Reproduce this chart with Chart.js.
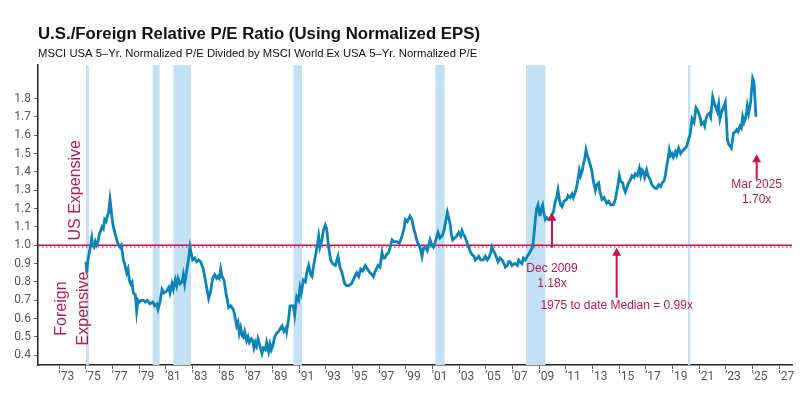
<!DOCTYPE html>
<html>
<head>
<meta charset="utf-8">
<title>U.S./Foreign Relative P/E Ratio</title>
<script src="https://cdn.jsdelivr.net/npm/chart.js@4.4.1/dist/chart.umd.min.js"></script>
<style>
  html, body { margin: 0; padding: 0; background: #ffffff; }
  #wrap { width: 800px; height: 393px; }
</style>
</head>
<body>
<div id="wrap"><canvas id="peChart" width="800" height="393"></canvas></div>
<script>
// Monthly-ish readings of the relative P/E (decimal year, ratio)
const years = [
  1975.00, 1975.05, 1975.15, 1975.30, 1975.43, 1975.50, 1975.60, 1975.70, 1975.80, 1975.90,
  1976.00, 1976.10, 1976.20, 1976.30, 1976.40, 1976.50, 1976.60, 1976.70, 1976.80, 1976.85,
  1976.95, 1977.05, 1977.20, 1977.30, 1977.40, 1977.55, 1977.65, 1977.80, 1977.90, 1978.05,
  1978.15, 1978.25, 1978.35, 1978.45, 1978.55, 1978.70, 1978.80, 1978.90, 1979.00, 1979.15,
  1979.30, 1979.45, 1979.60, 1979.80, 1980.00, 1980.15, 1980.30, 1980.40, 1980.55, 1980.70,
  1980.85, 1981.05, 1981.20, 1981.30, 1981.45, 1981.55, 1981.70, 1981.80, 1981.90, 1982.05,
  1982.20, 1982.30, 1982.40, 1982.55, 1982.70, 1982.80, 1982.90, 1983.00, 1983.15, 1983.30,
  1983.45, 1983.60, 1983.70, 1983.80, 1983.90, 1984.05, 1984.20, 1984.35, 1984.50, 1984.65,
  1984.80, 1984.90, 1985.00, 1985.10, 1985.20, 1985.35, 1985.50, 1985.60, 1985.70, 1985.85,
  1986.05, 1986.15, 1986.30, 1986.40, 1986.50, 1986.60, 1986.70, 1986.80, 1986.90, 1987.05,
  1987.15, 1987.25, 1987.40, 1987.50, 1987.60, 1987.70, 1987.80, 1987.90, 1988.05, 1988.20,
  1988.30, 1988.45, 1988.55, 1988.70, 1988.80, 1988.90, 1989.00, 1989.15, 1989.30, 1989.45,
  1989.60, 1989.70, 1989.85, 1990.00, 1990.05, 1990.20, 1990.30, 1990.45, 1990.55, 1990.65,
  1990.80, 1990.95, 1991.05, 1991.15, 1991.30, 1991.45, 1991.55, 1991.70, 1991.85, 1991.95,
  1992.10, 1992.20, 1992.35, 1992.45, 1992.55, 1992.70, 1992.80, 1992.95, 1993.05, 1993.20,
  1993.35, 1993.50, 1993.70, 1993.90, 1994.05, 1994.20, 1994.30, 1994.40, 1994.55, 1994.70,
  1994.90, 1995.10, 1995.30, 1995.45, 1995.60, 1995.75, 1995.95, 1996.10, 1996.30, 1996.45,
  1996.55, 1996.70, 1996.90, 1997.05, 1997.20, 1997.30, 1997.40, 1997.55, 1997.70, 1997.85,
  1997.95, 1998.10, 1998.30, 1998.50, 1998.70, 1998.85, 1998.95, 1999.10, 1999.30, 1999.45,
  1999.55, 1999.70, 1999.80, 1999.95, 2000.05, 2000.20, 2000.30, 2000.45, 2000.60, 2000.80,
  2000.95, 2001.05, 2001.20, 2001.40, 2001.55, 2001.70, 2001.85, 2001.95, 2002.10, 2002.20,
  2002.30, 2002.40, 2002.50, 2002.65, 2002.80, 2002.95, 2003.10, 2003.20, 2003.30, 2003.40,
  2003.55, 2003.70, 2003.85, 2003.95, 2004.10, 2004.20, 2004.35, 2004.45, 2004.60, 2004.80,
  2004.95, 2005.10, 2005.20, 2005.35, 2005.45, 2005.55, 2005.70, 2005.80, 2005.90, 2006.05,
  2006.20, 2006.35, 2006.45, 2006.60, 2006.70, 2006.80, 2006.95, 2007.10, 2007.20, 2007.35,
  2007.45, 2007.55, 2007.70, 2007.80, 2007.95, 2008.10, 2008.20, 2008.35, 2008.50, 2008.60,
  2008.70, 2008.80, 2008.90, 2009.00, 2009.05, 2009.15, 2009.25, 2009.35, 2009.45, 2009.55,
  2009.70, 2009.85, 2009.95, 2010.05, 2010.20, 2010.30, 2010.40, 2010.50, 2010.60, 2010.70,
  2010.85, 2011.05, 2011.15, 2011.30, 2011.45, 2011.55, 2011.70, 2011.80, 2011.90, 2012.00,
  2012.10, 2012.20, 2012.30, 2012.40, 2012.50, 2012.60, 2012.70, 2012.85, 2012.95, 2013.05,
  2013.20, 2013.30, 2013.45, 2013.55, 2013.70, 2013.85, 2014.05, 2014.20, 2014.35, 2014.55,
  2014.70, 2014.80, 2014.90, 2015.00, 2015.10, 2015.25, 2015.35, 2015.45, 2015.60, 2015.70,
  2015.85, 2015.95, 2016.10, 2016.20, 2016.35, 2016.50, 2016.60, 2016.70, 2016.80, 2016.90,
  2017.05, 2017.15, 2017.30, 2017.45, 2017.55, 2017.70, 2017.80, 2017.95, 2018.10, 2018.20,
  2018.35, 2018.45, 2018.55, 2018.65, 2018.75, 2018.85, 2018.95, 2019.05, 2019.20, 2019.30,
  2019.45, 2019.60, 2019.80, 2019.95, 2020.05, 2020.20, 2020.30, 2020.40, 2020.45, 2020.60,
  2020.75, 2020.85, 2020.95, 2021.05, 2021.15, 2021.30, 2021.40, 2021.50, 2021.60, 2021.75,
  2021.85, 2022.00, 2022.10, 2022.20, 2022.35, 2022.45, 2022.55, 2022.65, 2022.75, 2022.85,
  2022.95, 2023.05, 2023.10, 2023.20, 2023.30, 2023.40, 2023.50, 2023.55, 2023.70, 2023.80,
  2023.90, 2024.05, 2024.15, 2024.25, 2024.35, 2024.45, 2024.55, 2024.60, 2024.70, 2024.75,
  2024.85, 2024.90, 2025.00, 2025.10, 2025.17, 2025.25
];
const ratio = [
  0.91, 0.85, 0.92, 0.98, 1.04, 1.00, 0.99, 1.02, 1.00, 1.02,
  1.06, 1.08, 1.10, 1.09, 1.14, 1.13, 1.16, 1.18, 1.25, 1.22,
  1.15, 1.10, 1.06, 1.03, 1.01, 0.99, 1.00, 0.92, 0.90, 0.85,
  0.87, 0.81, 0.79, 0.80, 0.74, 0.73, 0.64, 0.70, 0.69, 0.70,
  0.70, 0.69, 0.70, 0.68, 0.69, 0.67, 0.68, 0.65, 0.69, 0.76,
  0.74, 0.75, 0.77, 0.74, 0.79, 0.76, 0.81, 0.78, 0.82, 0.79,
  0.80, 0.84, 0.79, 0.86, 0.93, 0.99, 0.95, 0.92, 0.93, 0.91,
  0.92, 0.91, 0.89, 0.87, 0.83, 0.77, 0.71, 0.75, 0.82, 0.84,
  0.82, 0.83, 0.82, 0.87, 0.83, 0.81, 0.74, 0.70, 0.66, 0.67,
  0.65, 0.62, 0.56, 0.58, 0.52, 0.55, 0.51, 0.50, 0.53, 0.48,
  0.50, 0.47, 0.49, 0.48, 0.44, 0.47, 0.45, 0.49, 0.45, 0.41,
  0.44, 0.43, 0.47, 0.42, 0.46, 0.43, 0.45, 0.50, 0.52, 0.53,
  0.55, 0.56, 0.53, 0.55, 0.53, 0.60, 0.67, 0.67, 0.67, 0.62,
  0.72, 0.70, 0.77, 0.74, 0.81, 0.80, 0.85, 0.89, 0.84, 0.83,
  0.90, 0.94, 1.00, 1.05, 0.99, 1.03, 1.08, 1.11, 1.09, 0.99,
  0.92, 0.90, 0.89, 0.94, 0.88, 0.85, 0.82, 0.79, 0.78, 0.78,
  0.79, 0.82, 0.85, 0.83, 0.87, 0.86, 0.89, 0.87, 0.85, 0.84,
  0.83, 0.86, 0.89, 0.88, 0.96, 0.93, 0.93, 0.95, 0.96, 1.00,
  1.03, 1.02, 1.02, 1.01, 1.05, 1.09, 1.14, 1.13, 1.16, 1.14,
  1.10, 1.06, 1.03, 1.00, 0.99, 0.94, 0.98, 0.99, 0.97, 1.03,
  1.00, 0.99, 1.02, 1.07, 1.04, 1.05, 1.08, 1.12, 1.18, 1.15,
  1.12, 1.06, 1.03, 1.04, 1.05, 1.07, 1.05, 1.08, 1.06, 1.05,
  1.02, 0.99, 0.96, 0.95, 0.94, 0.92, 0.93, 0.94, 0.92, 0.92,
  0.94, 0.92, 0.93, 0.96, 0.99, 0.97, 0.95, 0.93, 0.91, 0.93,
  0.92, 0.90, 0.88, 0.89, 0.91, 0.91, 0.89, 0.90, 0.90, 0.89,
  0.92, 0.91, 0.90, 0.93, 0.92, 0.94, 0.95, 0.97, 0.99, 1.06,
  1.14, 1.20, 1.22, 1.18, 1.16, 1.20, 1.22, 1.17, 1.14, 1.15,
  1.14, 1.15, 1.17, 1.18, 1.24, 1.26, 1.30, 1.25, 1.22, 1.21,
  1.24, 1.25, 1.27, 1.26, 1.28, 1.26, 1.29, 1.32, 1.36, 1.41,
  1.38, 1.40, 1.44, 1.47, 1.52, 1.49, 1.47, 1.43, 1.40, 1.35,
  1.30, 1.33, 1.34, 1.29, 1.25, 1.26, 1.23, 1.24, 1.22, 1.22,
  1.25, 1.29, 1.33, 1.38, 1.35, 1.34, 1.31, 1.29, 1.32, 1.34,
  1.36, 1.38, 1.37, 1.39, 1.38, 1.42, 1.38, 1.41, 1.40, 1.37,
  1.41, 1.38, 1.36, 1.33, 1.32, 1.31, 1.31, 1.33, 1.32, 1.34,
  1.35, 1.38, 1.43, 1.47, 1.52, 1.49, 1.50, 1.48, 1.51, 1.49,
  1.53, 1.50, 1.52, 1.53, 1.54, 1.58, 1.60, 1.66, 1.69, 1.67,
  1.75, 1.74, 1.72, 1.70, 1.66, 1.67, 1.65, 1.69, 1.71, 1.72,
  1.70, 1.81, 1.78, 1.76, 1.73, 1.77, 1.69, 1.72, 1.74, 1.76,
  1.78, 1.66, 1.58, 1.55, 1.54, 1.53, 1.58, 1.61, 1.62, 1.63,
  1.62, 1.65, 1.64, 1.70, 1.67, 1.69, 1.73, 1.76, 1.72, 1.74,
  1.78, 1.83, 1.91, 1.89, 1.80, 1.70
];

// Recession periods (shaded), as decimal years
const recStart = [1975.00, 1980.00, 1981.55, 1990.55, 2001.20, 2008.00, 2020.15];
const recEnd   = [1975.22, 1980.52, 1982.87, 1991.20, 2001.90, 2009.45, 2020.32];

// Axis ticks
const xTickYears = [1973, 1975, 1977, 1979, 1981, 1983, 1985, 1987, 1989, 1991, 1993, 1995, 1997, 1999,
  2001, 2003, 2005, 2007, 2009, 2011, 2013, 2015, 2017, 2019, 2021, 2023, 2025, 2027];
const yTicks = [0.4, 0.5, 0.6, 0.7, 0.8, 0.9, 1.0, 1.1, 1.2, 1.3, 1.4, 1.5, 1.6, 1.7, 1.8];

// Reference levels
const parityLevel = 1.0;
const medianLevel = 0.99;

// Annotations: arrow x (year), tip / base values, text lines
const noteYears = [2009.95, 2014.8, 2025.3];
const noteTips  = [1.178, 0.987, 1.496];
const noteBases = [0.987, 0.714, 1.358];
const noteLines = [['Dec 2009', '1.18x'], ['1975 to date Median = 0.99x'], ['Mar 2025', '1.70x']];
const noteGaps  = [21, 8, 5];

const xMin = 1971.4;
const xMax = 2027.95;

const colors = {
  line: '#0A84B9',
  recession: '#C3E1F5',
  red: '#C3174A',
  redDot: '#D8607F',
  note: '#B8194E',
  tick: '#555555',
  axis: '#222222'
};

// Shaded recession bands behind the data
const recessionPlugin = {
  id: 'recessions',
  beforeDatasetsDraw(chart) {
    const { ctx, chartArea, scales } = chart;
    ctx.save();
    ctx.fillStyle = colors.recession;
    recStart.forEach((s, i) => {
      const x0 = scales.x.getPixelForValue(s);
      const x1 = scales.x.getPixelForValue(recEnd[i]);
      ctx.fillRect(x0, chartArea.top, Math.max(x1 - x0, 2), chartArea.bottom - chartArea.top);
    });
    ctx.restore();
  }
};

// Arrows, callouts and side labels
const notesPlugin = {
  id: 'notes',
  afterDatasetsDraw(chart) {
    const { ctx, scales } = chart;
    const x = scales.x, y = scales.y;
    ctx.save();
    ctx.strokeStyle = colors.red;
    ctx.fillStyle = colors.red;
    ctx.lineWidth = 2;
    noteYears.forEach((yr, i) => {
      const px = x.getPixelForValue(yr);
      const tip = y.getPixelForValue(noteTips[i]);
      const base = y.getPixelForValue(noteBases[i]);
      ctx.beginPath();
      ctx.moveTo(px, base);
      ctx.lineTo(px, tip + 6);
      ctx.stroke();
      ctx.beginPath();
      ctx.moveTo(px, tip);
      ctx.lineTo(px - 4.5, tip + 8);
      ctx.lineTo(px + 4.5, tip + 8);
      ctx.closePath();
      ctx.fill();

      ctx.fillStyle = colors.note;
      ctx.font = '12px "Liberation Sans", Arial, sans-serif';
      ctx.textAlign = 'center';
      ctx.textBaseline = 'middle';
      noteLines[i].forEach((t, j) => {
        ctx.fillText(t, px, base + noteGaps[i] + j * 15);
      });
      ctx.fillStyle = colors.red;
    });

    // rotated zone labels
    ctx.fillStyle = colors.note;
    ctx.font = '16px "Liberation Sans", Arial, sans-serif';
    ctx.textAlign = 'center';
    ctx.textBaseline = 'middle';
    const rot = (text, yr, val) => {
      ctx.save();
      ctx.translate(x.getPixelForValue(yr), y.getPixelForValue(val));
      ctx.rotate(-Math.PI / 2);
      ctx.fillText(text, 0, 0);
      ctx.restore();
    };
    rot('US Expensive', 1974.2, 1.30);
    rot('Foreign', 1973.15, 0.655);
    rot('Expensive', 1974.8, 0.655);
    ctx.restore();
  }
};

function initChart() {
  const ctx = document.getElementById('peChart');
  const series = years.map((yr, i) => ({ x: yr, y: ratio[i] }));

  new Chart(ctx, {
    type: 'line',
    data: {
      datasets: [
        {
          label: 'Relative P/E',
          data: series,
          borderColor: colors.line,
          borderWidth: 2.8,
          pointRadius: 0,
          tension: 0
        },
        {
          label: 'Parity',
          data: [{ x: xMin, y: parityLevel }, { x: xMax, y: parityLevel }],
          borderColor: colors.red,
          borderWidth: 1.3,
          pointRadius: 0
        },
        {
          label: 'Median',
          data: [{ x: xMin, y: medianLevel }, { x: xMax, y: medianLevel }],
          borderColor: colors.redDot,
          borderWidth: 1.5,
          borderDash: [1.5, 2.5],
          pointRadius: 0
        }
      ]
    },
    options: {
      responsive: false,
      animation: false,
      events: [],
      layout: { padding: { left: 0, right: 8, top: 0, bottom: 0 } },
      plugins: {
        legend: { display: false },
        tooltip: { enabled: false },
        title: {
          display: true,
          text: 'U.S./Foreign Relative P/E Ratio (Using Normalized EPS)',
          align: 'start',
          fullSize: false,
          color: '#111111',
          font: { family: '"Liberation Sans", Arial, sans-serif', size: 16.8, weight: 'bold' },
          padding: { top: 24, bottom: 0 }
        },
        subtitle: {
          display: true,
          text: 'MSCI USA 5\u2013Yr. Normalized P/E Divided by MSCI World Ex USA 5\u2013Yr. Normalized P/E',
          align: 'start',
          fullSize: false,
          color: '#111111',
          font: { family: '"Liberation Sans", Arial, sans-serif', size: 11.3 },
          padding: { top: 2.5, bottom: 5 }
        }
      },
      scales: {
        x: {
          type: 'linear',
          min: xMin,
          max: xMax,
          afterBuildTicks: axis => { axis.ticks = xTickYears.map(v => ({ value: v })); },
          afterFit: axis => { axis.height = 28; },
          ticks: {
            autoSkip: false,
            maxRotation: 0,
            color: colors.tick,
            padding: 1,
            labelOffset: 7,
            font: { family: 'Roboto, "Liberation Sans", sans-serif', size: 12 },
            callback: v => "'" + String(v).slice(2)
          },
          grid: { drawOnChartArea: false, drawTicks: true, tickLength: 4, color: '#666666' },
          border: { display: true, color: colors.axis, width: 1.5 }
        },
        y: {
          type: 'linear',
          min: 0.347,
          max: 1.982,
          afterBuildTicks: axis => { axis.ticks = yTicks.map(v => ({ value: v })); },
          afterFit: axis => { axis.width = 38; },
          ticks: {
            color: colors.tick,
            padding: 3,
            font: { family: 'Roboto, "Liberation Sans", sans-serif', size: 12 },
            callback: v => v.toFixed(1)
          },
          grid: { drawOnChartArea: false, drawTicks: true, tickLength: 4, color: '#666666' },
          border: { display: true, color: colors.axis, width: 1.5 }
        }
      }
    },
    plugins: [recessionPlugin, notesPlugin]
  });
}

document.addEventListener('DOMContentLoaded', initChart);
</script>
</body>
</html>
